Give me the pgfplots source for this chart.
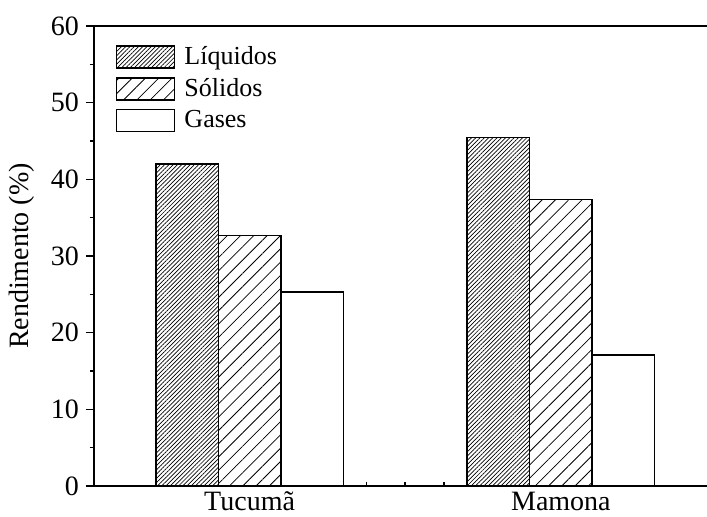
\documentclass[border=0pt]{standalone}
\usepackage{fontspec}
\setmainfont{Liberation Serif}
\usepackage{pgfplots}
\pgfplotsset{compat=1.18}
\usetikzlibrary{patterns.meta}

\begin{document}
\begin{tikzpicture}
\begin{axis}[
  name=ax,
  at={(0,0)}, anchor=south west,
  scale only axis,
  width=311.25pt, height=230pt,
  xmin=-0.5, xmax=1.5, ymin=0, ymax=60,
  enlargelimits=false,
  ybar=0pt, bar width=31.25pt,
  xtick={0,1}, xticklabels={Tucumã, Mamona},
  minor x tick num=7,
  ytick={0,10,...,60}, minor y tick num=1,
  xtick pos=lower, ytick pos=left,
  xtick align=inside, ytick align=outside,
  major tick length=4pt, minor tick length=2pt,
  axis line style={line width=1pt},
  every tick/.style={black, line width=0.8pt},
  /pgf/number format/assume math mode=true,
  tick label style={font=\fontsize{14}{16}\selectfont},
  xticklabel style={yshift=0.5pt},
  ylabel={Rendimento (\%)},
  every axis y label/.style={at={(axis description cs:-0.116,0.5)}, rotate=90, anchor=center, font=\fontsize{14}{16}\selectfont},
  legend style={draw=none, fill=none, at={(axis description cs:0.035,0.963)}, anchor=north west,
    font=\fontsize{13}{15}\selectfont, row sep=2.5pt, inner sep=0pt, nodes={inner sep=1.5pt},
    /tikz/every odd column/.append style={column sep=3pt}},
  legend cell align=left,
  legend image code/.code={\draw[#1] (0pt,-5.5pt) rectangle (29pt,5.5pt);},
]
\addplot[draw=black, line width=0.65pt, fill=white, postaction={pattern={Lines[angle=45,distance=1.5pt,line width=0.35pt]}}]
  coordinates {(0,42.0) (1,45.5)};
\addplot[draw=black, line width=0.65pt, fill=white, postaction={pattern={Lines[angle=45,distance=4.7pt,line width=0.4pt]}}]
  coordinates {(0,32.7) (1,37.4)};
\addplot[draw=black, line width=0.65pt, fill=white]
  coordinates {(0,25.3) (1,17.1)};
\legend{Líquidos, Sólidos, Gases}
\end{axis}
\pgfresetboundingbox
\path[use as bounding box] (-47pt,-15pt) rectangle (306.5pt,243pt);
\end{tikzpicture}
\end{document}
